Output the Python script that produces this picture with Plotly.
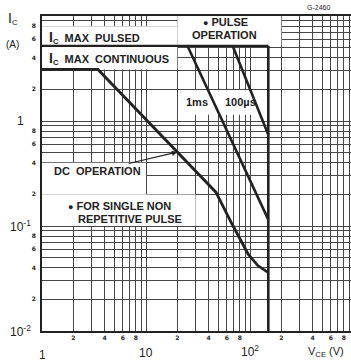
import numpy as np
import plotly.graph_objects as go

# Safe operating area limits: collector-emitter voltage (V) vs collector current (A)
dc_vce = [1, 3.45, 47, 67, 96, 119, 150]
dc_ic = [3.1, 3.1, 0.21, 0.105, 0.054, 0.042, 0.036]

pulsed_vce = [1, 150]
pulsed_ic = [5.2, 5.2]

ms1_vce = [25, 150]
ms1_ic = [5.2, 0.115]

us100_vce = [68, 150]
us100_ic = [5.2, 0.74]

vceo_vce = [150, 150]
vceo_ic = [5.2, 0.01]

# Labelled grid lines (2, 4, 6, 8 in every decade)
x_label_vals = [2, 4, 6, 8, 20, 40, 60, 80, 200, 400, 600, 800]
x_label_text = ["2", "4", "6", "8", "2", "4", "6", "8", "2", "4", "6", "8"]
y_label_vals = [0.02, 0.04, 0.06, 0.08, 0.2, 0.4, 0.6, 0.8, 2, 4, 6, 8]
y_label_text = ["2", "4", "6", "8", "2", "4", "6", "8", "2", "4", "6", "8"]

# Remaining grid lines without labels
x_plain_vals = [1, 3, 5, 7, 9, 10, 30, 50, 70, 90, 100, 300, 500, 700, 900]
y_plain_vals = [0.01, 0.03, 0.05, 0.07, 0.09, 0.1, 0.3, 0.5, 0.7, 0.9,
                1, 3, 5, 7, 9, 10]

# Decade labels
x_major_vals = [1, 10, 100]
x_major_text = ["1", "10", "10<sup>2</sup>"]
y_major_vals = [1, 0.1, 0.01]
y_major_text = ["1", "10<sup>-1</sup>", "10<sup>-2</sup>"]

W, H = 351, 362
ML, MR, MT, MB = 42, 0, 16, 31
PW, PH = W - ML - MR, H - MT - MB
X_DECADES = PW / 104.0
Y_LOG_RANGE = [-2, 1]

def px(x):
    return (x - ML) / PW

def py(y):
    return (H - MB - y) / PH

INK = "#222222"
GRID = "#474747"
FONT = "Liberation Sans"
TICKFONT = "DejaVu Sans"

fig = go.Figure()

def limit(xs, ys, width=2.6):
    fig.add_trace(go.Scatter(x=xs, y=ys, mode="lines",
                             line=dict(color=INK, width=width),
                             hoverinfo="skip", showlegend=False))

limit(pulsed_vce, pulsed_ic, 2.2)
limit(dc_vce, dc_ic, 2.8)
limit(ms1_vce, ms1_ic, 2.6)
limit(us100_vce, us100_ic, 2.6)
limit(vceo_vce, vceo_ic, 2.6)

# White label panels that blank out the grid behind the text
def panel(v0, v1, i0, i1):
    fig.add_shape(type="rect", xref="x", yref="y",
                  x0=v0, x1=v1, y0=i0, y1=i1,
                  fillcolor="white", line=dict(width=0), layer="between")

panel(1, 20, pulsed_ic[0], 8)
panel(1, 20, dc_ic[0], pulsed_ic[0])
panel(20, 200, pulsed_ic[0], 10)
panel(22, 136, 1.15, 1.97)
panel(1, 10, 0.2, 0.4)
panel(1, 30, 0.1, 0.2)

ann = []

def text(x, y, s, size=11, anchor="center", bold=True):
    ann.append(dict(x=x, y=y, xref="paper", yref="paper", text=s, showarrow=False,
                    xanchor=anchor, yanchor="middle",
                    font=dict(family=FONT, size=size, color=INK,
                              weight="bold" if bold else "normal")))

DOT = "<span style='font-size:9px'>●</span>"
text(px(47), py(37), "<span style='font-size:14px'>I</span><sub>C</sub>&nbsp;&nbsp;MAX&nbsp;&nbsp;PULSED", anchor="left")
text(px(47), py(59), "<span style='font-size:14px'>I</span><sub>C</sub>&nbsp;&nbsp;MAX&nbsp;&nbsp;CONTINUOUS", anchor="left")
text(px(225), py(22), DOT + " PULSE", size=11)
text(px(224), py(35), "OPERATION", size=11)
text(px(197), py(102), "1ms", size=11)
text(px(240), py(102), "100µs", size=11)
text(px(66), py(206), DOT + " FOR SINGLE NON", anchor="left")
text(px(76), py(219), "REPETITIVE PULSE", anchor="left")
text(px(318), py(7), "G-2460", size=7, bold=False)

# DC operation callout pointing at the power-limited segment
tip_v = 20
tip_i = 10 ** np.interp(np.log10(tip_v), np.log10(dc_vce[1:3]), np.log10(dc_ic[1:3]))
tip_px = ML + np.log10(tip_v) / X_DECADES * PW
ann.append(dict(x=np.log10(tip_v), y=np.log10(tip_i), xref="x", yref="y",
                text="DC&nbsp;&nbsp;OPERATION", showarrow=True, arrowhead=2,
                arrowsize=0.9, arrowwidth=1.2, arrowcolor=INK,
                ax=97 - tip_px, ay=19,
                font=dict(family=FONT, size=11, color=INK, weight="bold")))

# Decade labels on both axes
for v, s, ypix in zip(x_major_vals, x_major_text, [355, 353, 351]):
    ann.append(dict(x=np.log10(v), y=py(ypix), xref="x", yref="paper", text=s,
                    showarrow=False, xanchor="center", yanchor="middle",
                    font=dict(family=FONT, size=12, color=INK)))
for v, s in zip(y_major_vals, y_major_text):
    ann.append(dict(x=px(20), y=np.log10(v), xref="paper", yref="y", text=s,
                    showarrow=False, xanchor="center", yanchor="middle",
                    font=dict(family=FONT, size=12, color=INK)))

text(px(326), py(352), "V<sub>CE</sub> (V)", size=11, bold=False)
text(px(13), py(19), "<span style='font-size:14px'>I</span><sub>C</sub>", size=11, bold=False)
text(px(12), py(44), "(A)", size=10, bold=False)

fig.update_layout(
    width=W, height=H,
    margin=dict(l=ML, r=MR, t=MT, b=MB),
    paper_bgcolor="white", plot_bgcolor="white",
    annotations=ann,
    xaxis=dict(type="log", range=[0, X_DECADES],
               tickvals=x_label_vals, ticktext=x_label_text, tickangle=0,
               tickfont=dict(family=TICKFONT, size=6, color=INK, weight="bold"),
               showgrid=True, gridcolor=GRID, gridwidth=1,
               minor=dict(tickvals=x_plain_vals, showgrid=True,
                          gridcolor=GRID, gridwidth=1, ticks=""),
               showline=True, linecolor=INK, linewidth=1.6, mirror=True,
               ticks="", zeroline=False),
    yaxis=dict(type="log", range=Y_LOG_RANGE,
               tickvals=y_label_vals, ticktext=y_label_text,
               tickfont=dict(family=TICKFONT, size=6, color=INK, weight="bold"),
               ticklabelstandoff=3,
               showgrid=True, gridcolor=GRID, gridwidth=1,
               minor=dict(tickvals=y_plain_vals, showgrid=True,
                          gridcolor=GRID, gridwidth=1, ticks=""),
               showline=True, linecolor=INK, linewidth=1.6,
               ticks="", zeroline=False),
)

fig.write_html("out.html")
